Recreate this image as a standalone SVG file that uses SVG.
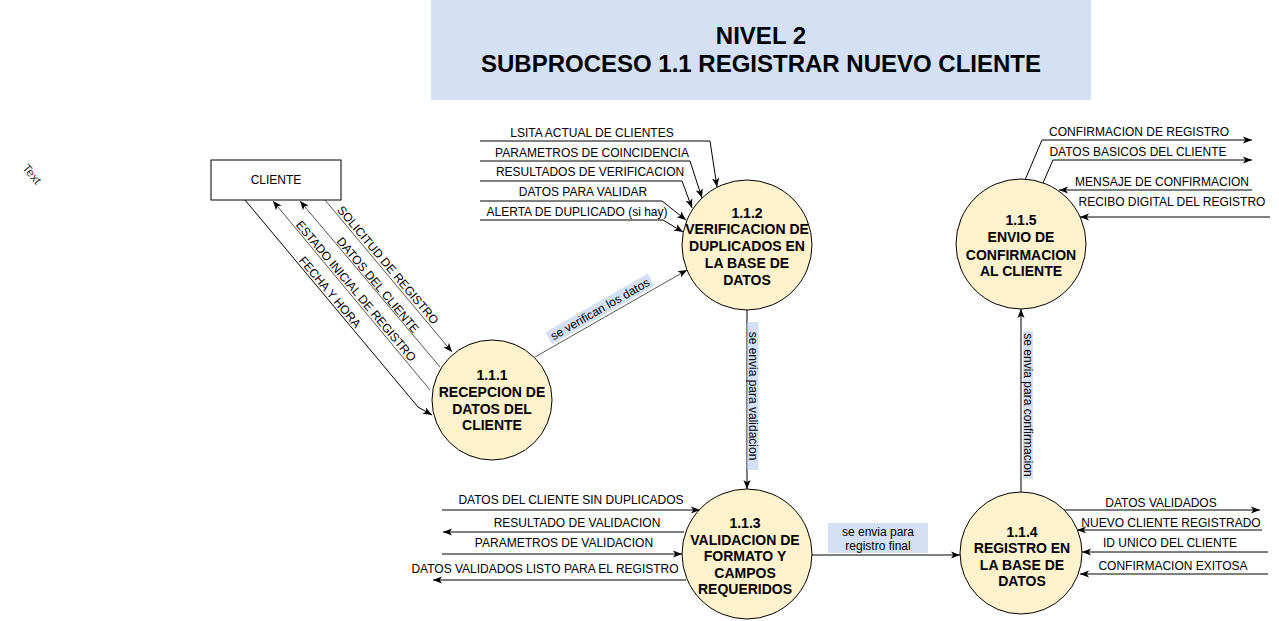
<svg xmlns="http://www.w3.org/2000/svg" width="1279" height="621" viewBox="0 0 1279 621">
<style>
text{font-family:"Liberation Sans",Arial,sans-serif;fill:#000}
.t{font-size:24px;font-weight:bold;text-anchor:middle}
.p{font-size:14px;font-weight:bold;text-anchor:middle}
.l{font-size:12px;text-anchor:middle}
.c{fill:#fff2cc;stroke:#000;stroke-width:1}
.ln{fill:none;stroke:#000;stroke-width:1}
.g{fill:none;stroke:#555;stroke-width:1}
.bg{fill:#d4e1f5}
</style>
<defs>
<marker id="a" viewBox="0 0 10 10" refX="10" refY="5" markerWidth="9" markerHeight="9" markerUnits="userSpaceOnUse" orient="auto">
<path d="M0,1 L10,5 L0,9 L2.5,5 z" fill="#000"/>
</marker>
</defs>
<rect width="1279" height="621" fill="#fff"/>

<g id="title">
<rect class="bg" x="431" y="0" width="660" height="100"/>
<text class="t" x="761" y="44">NIVEL 2</text>
<text class="t" x="761" y="72">SUBPROCESO 1.1 REGISTRAR NUEVO CLIENTE</text>
</g>

<g id="stray-text">
<text transform="translate(32,174) rotate(50)" font-size="12" text-anchor="middle" dy=".35em" style="fill:#333">Text</text>
</g>

<g id="connectors">
<path class="g" d="M325,200 L452,352" marker-end="url(#a)"/>
<path class="g" d="M440,367 L300,201" marker-end="url(#a)"/>
<path class="g" d="M430,390 L273,201" marker-end="url(#a)"/>
<path class="ln" d="M245,200 L418,407 L432,415" marker-end="url(#a)"/>
<path class="g" d="M535,357 L687,270" marker-end="url(#a)"/>
<path class="ln" d="M747,310 V489" marker-end="url(#a)"/>
<path class="ln" d="M812,555 H960" marker-end="url(#a)"/>
<path class="ln" d="M1021,492 V309" marker-end="url(#a)"/>
<path class="ln" d="M480,141 H710 L717,187" marker-end="url(#a)"/>
<path class="ln" d="M480,161 H690 L702,198" marker-end="url(#a)"/>
<path class="ln" d="M480,181 H682 L692,208" marker-end="url(#a)"/>
<path class="ln" d="M480,201 H662 L686,220" marker-end="url(#a)"/>
<path class="ln" d="M480,220 H663 L683,232" marker-end="url(#a)"/>
<path class="ln" d="M1025,180 L1042,140 H1252" marker-end="url(#a)"/>
<path class="ln" d="M1043,183 L1053,160 H1252" marker-end="url(#a)"/>
<path class="ln" d="M1252,190 H1059" marker-end="url(#a)"/>
<path class="ln" d="M1270,217 H1080" marker-end="url(#a)"/>
<path class="ln" d="M442,510 H700" marker-end="url(#a)"/>
<path class="ln" d="M684,532 H443" marker-end="url(#a)"/>
<path class="ln" d="M442,554 H682" marker-end="url(#a)"/>
<path class="ln" d="M686,580 H433" marker-end="url(#a)"/>
<path class="ln" d="M1063,510 H1260" marker-end="url(#a)"/>
<path class="ln" d="M1262,530 H1077" marker-end="url(#a)"/>
<path class="ln" d="M1268,552 H1082" marker-end="url(#a)"/>
<path class="ln" d="M1268,574 H1080" marker-end="url(#a)"/>

<g class="l">
<text transform="translate(388,265) rotate(50)" class="l" dy=".35em">SOLICITUD DE REGISTRO</text>
<text transform="translate(378,285) rotate(50)" class="l" dy=".35em">DATOS DEL CLIENTE</text>
<text transform="translate(356,291) rotate(50)" class="l" dy=".35em">ESTADO INICIAL DE REGISTRO</text>
<text transform="translate(330,292) rotate(50)" class="l" dy=".35em">FECHA Y HORA</text>

<g transform="translate(600,309) rotate(-29.8)">
<rect class="bg" x="-59" y="-7" width="118" height="14"/>
<text class="l" x="0" y="0" dy=".35em">se verifican los datos</text>
</g>
<g transform="translate(753,396) rotate(90)">
<rect class="bg" x="-74" y="-5.5" width="148" height="11"/>
<text class="l" x="0" y="0" dy=".35em">se envia para validacion</text>
</g>
<g transform="translate(1028,405) rotate(90)">
<rect class="bg" x="-74" y="-5" width="148" height="10"/>
<text class="l" x="0" y="0" dy=".35em">se envia para confirmacion</text>
</g>
<rect class="bg" x="828" y="523" width="100" height="30"/>
<text class="l" x="878" y="536">se envia para</text>
<text class="l" x="878" y="550">registro final</text>

<text class="l" x="592" y="137">LSITA ACTUAL DE CLIENTES</text>
<text class="l" x="592" y="157">PARAMETROS DE COINCIDENCIA</text>
<text class="l" x="590" y="176">RESULTADOS DE VERIFICACION</text>
<text class="l" x="583" y="196">DATOS PARA VALIDAR</text>
<text class="l" x="577" y="216">ALERTA DE DUPLICADO (si hay)</text>

<text class="l" x="1139" y="136">CONFIRMACION DE REGISTRO</text>
<text class="l" x="1138" y="156">DATOS BASICOS DEL CLIENTE</text>
<text class="l" x="1162" y="186">MENSAJE DE CONFIRMACION</text>
<text class="l" x="1172" y="206">RECIBO DIGITAL DEL REGISTRO</text>

<text class="l" x="571" y="504">DATOS DEL CLIENTE SIN DUPLICADOS</text>
<text class="l" x="577" y="527">RESULTADO DE VALIDACION</text>
<text class="l" x="564" y="547">PARAMETROS DE VALIDACION</text>
<text class="l" x="545" y="573">DATOS VALIDADOS LISTO PARA EL REGISTRO</text>

<text class="l" x="1161" y="507">DATOS VALIDADOS</text>
<text class="l" x="1171" y="527">NUEVO CLIENTE REGISTRADO</text>
<text class="l" x="1170" y="547">ID UNICO DEL CLIENTE</text>
<text class="l" x="1173" y="570">CONFIRMACION EXITOSA</text>
</g>
</g>

<g id="cliente">
<rect x="211" y="160" width="130" height="40" fill="#fff" stroke="#000"/>
<text class="l" x="276" y="184">CLIENTE</text>
</g>

<g id="p111">
<circle class="c" cx="492" cy="400" r="60"/>
<text class="p" x="492" y="380">1.1.1</text>
<text class="p" x="492" y="397">RECEPCION DE</text>
<text class="p" x="492" y="414">DATOS DEL</text>
<text class="p" x="492" y="430">CLIENTE</text>
</g>

<g id="p112">
<circle class="c" cx="747" cy="245" r="65"/>
<text class="p" x="747" y="218">1.1.2</text>
<text class="p" x="747" y="234">VERIFICACION DE</text>
<text class="p" x="747" y="251">DUPLICADOS EN</text>
<text class="p" x="747" y="268">LA BASE DE</text>
<text class="p" x="747" y="285">DATOS</text>
</g>

<g id="p113">
<circle class="c" cx="747" cy="554" r="65"/>
<text class="p" x="745" y="528">1.1.3</text>
<text class="p" x="745" y="545">VALIDACION DE</text>
<text class="p" x="745" y="561">FORMATO Y</text>
<text class="p" x="745" y="578">CAMPOS</text>
<text class="p" x="745" y="594">REQUERIDOS</text>
</g>

<g id="p114">
<circle class="c" cx="1021" cy="553" r="61"/>
<text class="p" x="1022" y="537">1.1.4</text>
<text class="p" x="1022" y="553">REGISTRO EN</text>
<text class="p" x="1022" y="570">LA BASE DE</text>
<text class="p" x="1022" y="586">DATOS</text>
</g>

<g id="p115">
<circle class="c" cx="1021" cy="244" r="65"/>
<text class="p" x="1021" y="225">1.1.5</text>
<text class="p" x="1021" y="242">ENVIO DE</text>
<text class="p" x="1021" y="260">CONFIRMACION</text>
<text class="p" x="1021" y="276">AL CLIENTE</text>
</g>
</svg>
